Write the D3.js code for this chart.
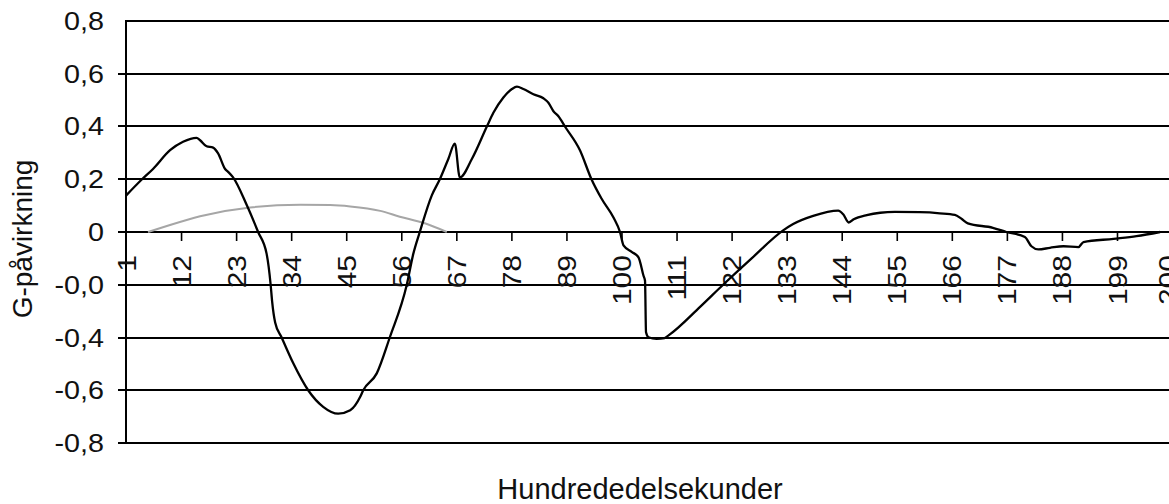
<!DOCTYPE html>
<html>
<head>
<meta charset="utf-8">
<script src="https://cdn.jsdelivr.net/npm/d3@7"></script>
<style>
  body { margin: 0; background: #fff; }
  svg { display: block; }
  text { font-family: "Liberation Sans", Arial, sans-serif; fill: #111; }
</style>
</head>
<body>
<svg width="1169" height="504"></svg>
<script>
// y axis ticks, labels as printed on the chart
var yTicks  = [0.8, 0.6, 0.4, 0.2, 0, -0.2, -0.4, -0.6, -0.8];
var yLabels = ["0,8", "0,6", "0,4", "0,2", "0", "-0,0", "-0,4", "-0,6", "-0,8"];

// category ticks (every 11th hundredth), last one is the cut off "200"
var xTicks  = [1, 12, 23, 34, 45, 56, 67, 78, 89, 100, 111, 122, 133, 144, 155, 166, 177, 188, 199, 209];
var xLabels = ["1", "12", "23", "34", "45", "56", "67", "78", "89", "100", "111", "122", "133", "144", "155", "166", "177", "188", "199", "200"];

// black series
var blackX = [1, 4.2, 6.4, 9.8, 12.4, 15.1, 15.8, 17.1, 18.4, 19.4, 20.8, 21.4, 22.4, 25.1, 27.4,
  29.1, 29.9, 30.2, 30.8, 32.1, 34.4, 37.4, 40.4, 43.4, 45.8, 47.8, 48.4, 51.1, 53.7, 57.1,
  58.4, 59.7, 62.1, 63.7, 65.4, 66.7, 67.7, 70.1, 73.1, 74.4, 76.4, 78.1, 79.1, 80.4, 82.4,
  84.4, 85.4, 86.4, 87.4, 88.7, 91.7, 94.0, 96.0, 98.4, 99.7, 100.4, 102.1, 103.4, 104.4, 104.7,
  104.9, 105.4, 107.0, 108.6, 109.4, 115.7, 120.3, 126.0, 132.3, 134.3, 138.3, 143.3, 144.3, 145.4, 146.4, 149.0,
  151.7, 154.6, 159.6, 163.6, 166.6, 168.0, 169.2, 174.2, 176.9, 180.6, 181.9, 183.3, 185.6, 188.3, 191.3,
  192.3, 198.3, 202.9, 207.6];
var blackY = [0.138, 0.2, 0.239, 0.31, 0.342, 0.357, 0.348, 0.325, 0.32, 0.298, 0.239, 0.228, 0.207, 0.103, 0,
  -0.083, -0.2, -0.264, -0.343, -0.4, -0.497, -0.6, -0.663, -0.689, -0.676, -0.625, -0.6, -0.536, -0.4, -0.2,
  -0.083, 0, 0.139, 0.2, 0.277, 0.335, 0.207, 0.277, 0.4, 0.452, 0.51, 0.542, 0.551, 0.542, 0.522,
  0.507, 0.49, 0.458, 0.439, 0.4, 0.31, 0.2, 0.127, 0.055, 0, -0.051, -0.076, -0.096, -0.166, -0.185,
  -0.38, -0.399, -0.405, -0.402, -0.392, -0.284, -0.2, -0.1, 0.006, 0.03, 0.061, 0.081, 0.067, 0.036, 0.048, 0.064,
  0.073, 0.076, 0.075, 0.071, 0.065, 0.049, 0.033, 0.016, 0, -0.019, -0.054, -0.066, -0.06, -0.054, -0.057,
  -0.038, -0.026, -0.016, 0];

// grey series
var grayX = [5.4, 7.9, 15.8, 25.8, 35.8, 41.8, 45.8, 51.8, 55.7, 60.7, 65.1];
var grayY = [0, 0.015, 0.06, 0.093, 0.103, 0.102, 0.097, 0.08, 0.058, 0.033, 0];

var svg = d3.select("svg"),
    width = +svg.attr("width"),
    height = +svg.attr("height");

var plotLeft = 126, plotTop = 21, plotBottom = 443;

var x = d3.scaleLinear().domain([1, 210]).range([plotLeft, plotLeft + 209 * 5.005]);
var y = d3.scaleLinear().domain([-0.8, 0.8]).range([plotBottom, plotTop]);

// gridlines + top border
svg.append("g")
  .selectAll("line")
  .data(yTicks)
  .enter().append("line")
    .attr("x1", plotLeft).attr("x2", width)
    .attr("y1", d => Math.round(y(d))).attr("y2", d => Math.round(y(d)))
    .attr("stroke", "#000")
    .attr("stroke-width", 2)
    .attr("shape-rendering", "crispEdges");

// y axis
var yAxis = svg.append("g")
    .attr("transform", "translate(" + plotLeft + ",0)")
    .call(d3.axisLeft(y).tickValues(yTicks).tickSize(8).tickPadding(0)
      .tickFormat((d, i) => yLabels[i]));
yAxis.select(".domain").remove();
yAxis.selectAll(".tick").attr("transform", d => "translate(0," + Math.round(y(d)) + ")");
yAxis.selectAll(".tick line").attr("stroke", "#000").attr("stroke-width", 2)
  .attr("shape-rendering", "crispEdges")
  .attr("display", d => d === 0.8 ? "none" : null);
yAxis.selectAll(".tick text")
  .attr("x", null).attr("dy", null)
  .attr("font-size", 25)
  .attr("text-anchor", "end")
  .attr("dominant-baseline", "central")
  .attr("transform", "translate(-22,1) scale(1.15,1)");

svg.append("line")
  .attr("x1", plotLeft).attr("x2", plotLeft)
  .attr("y1", plotTop - 1).attr("y2", plotBottom + 1)
  .attr("stroke", "#000").attr("stroke-width", 2)
  .attr("shape-rendering", "crispEdges");

// x axis along zero
var xAxis = svg.append("g")
    .attr("transform", "translate(0," + Math.round(y(0)) + ")")
    .call(d3.axisBottom(x).tickValues(xTicks).tickSize(9).tickPadding(0)
      .tickFormat((d, i) => xLabels[i]));
xAxis.select(".domain").remove();
xAxis.selectAll(".tick line").attr("stroke", "#000").attr("stroke-width", 1.6)
  .attr("display", (d, i) => (i === 0 || i === xTicks.length - 1) ? "none" : null);
xAxis.selectAll(".tick text")
  .attr("y", null).attr("dy", "0.36em")
  .attr("font-size", 25)
  .attr("text-anchor", "end")
  .attr("transform", "translate(0,23) rotate(-90) scale(1.2,1)");

// series
var line = d3.line()
  .x(d => x(d[0]))
  .y(d => y(d[1]))
  .curve(d3.curveMonotoneX);

svg.append("path")
  .datum(d3.zip(grayX, grayY))
  .attr("fill", "none")
  .attr("stroke", "#a6a6a6")
  .attr("stroke-width", 2)
  .attr("d", line);

svg.append("path")
  .datum(d3.zip(blackX, blackY))
  .attr("fill", "none")
  .attr("stroke", "#000")
  .attr("stroke-width", 2.3)
  .attr("stroke-linejoin", "round")
  .attr("d", line);

// titles
svg.append("text")
  .attr("transform", "translate(32,239) rotate(-90)")
  .attr("text-anchor", "middle")
  .attr("font-size", 28)
  .text("G-påvirkning");

svg.append("text")
  .attr("x", 640).attr("y", 499)
  .attr("text-anchor", "middle")
  .attr("font-size", 29)
  .text("Hundrededelsekunder");
</script>
</body>
</html>
